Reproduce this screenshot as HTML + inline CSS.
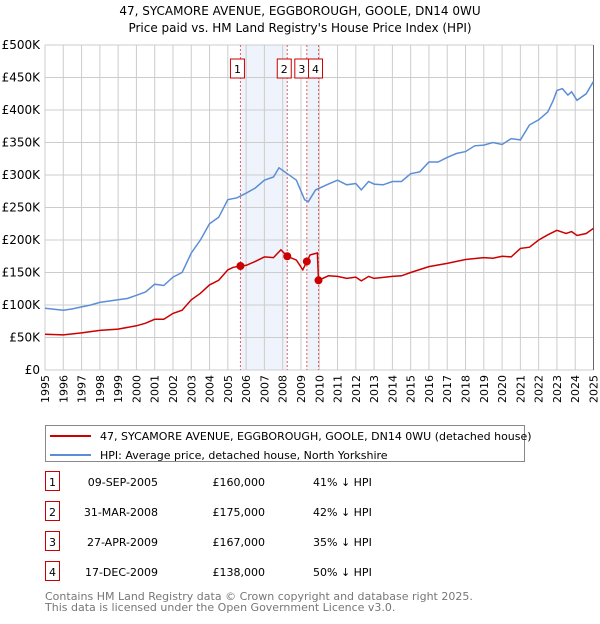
<!DOCTYPE html>
<html><head><meta charset="utf-8"><style>
body{margin:0;background:#fff;font-family:"DejaVu Sans","Liberation Sans",sans-serif;}
svg text{font-family:"DejaVu Sans","Liberation Sans",sans-serif;}
</style></head><body>
<svg id="c" width="600" height="620" xmlns="http://www.w3.org/2000/svg">
<text x="300" y="15" text-anchor="middle" font-size="12">47, SYCAMORE AVENUE, EGGBOROUGH, GOOLE, DN14 0WU</text>
<text x="300" y="32" text-anchor="middle" font-size="12">Price paid vs. HM Land Registry's House Price Index (HPI)</text>
<g id="plot"></g>
<g>
<rect x="45.5" y="425.5" width="479" height="36" fill="#fff" stroke="#888"/>
<line x1="50" y1="436" x2="91" y2="436" stroke="#cc0000" stroke-width="2"/>
<text x="100" y="440" font-size="11">47, SYCAMORE AVENUE, EGGBOROUGH, GOOLE, DN14 0WU (detached house)</text>
<line x1="50" y1="455" x2="91" y2="455" stroke="#5b8ed6" stroke-width="2"/>
<text x="100" y="459" font-size="11">HPI: Average price, detached house, North Yorkshire</text>
</g>
<g id="tbl" font-size="11"></g>
<text x="45" y="600" font-size="11" fill="#777">Contains HM Land Registry data © Crown copyright and database right 2025.</text>
<text x="45" y="611" font-size="11" fill="#777">This data is licensed under the Open Government Licence v3.0.</text>
</svg>
<script>
const hpiYears=[1995,1996,1996.5,1997,1997.5,1998,1999,1999.5,2000,2000.5,2001,2001.5,2002,2002.5,2003,2003.5,2004,2004.5,2005,2005.5,2006,2006.5,2007,2007.5,2007.8,2008.25,2008.75,2009.2,2009.4,2009.8,2010.5,2011,2011.5,2012,2012.3,2012.7,2013,2013.5,2014,2014.5,2015,2015.5,2016,2016.5,2017,2017.5,2018,2018.5,2019,2019.5,2020,2020.5,2021,2021.5,2022,2022.5,2022.8,2023,2023.3,2023.6,2023.8,2024.1,2024.6,2025];
const hpiValues=[95,92,94,97,100,104,108,110,115,120,132,130,143,150,180,200,225,235,262,265,272,280,292,297,311,302,292,262,259,277,286,292,285,287,277,290,286,285,290,290,302,305,320,320,327,333,336,345,346,350,347,356,354,377,385,397,415,430,433,423,428,415,425,444];
const ppYears=[1995,1996,1997,1998,1999,2000,2000.5,2001,2001.5,2002,2002.5,2003,2003.5,2004,2004.5,2005,2005.3,2005.69,2006,2006.5,2007,2007.5,2007.9,2008.25,2008.75,2009.1,2009.32,2009.5,2009.9,2009.96,2010.5,2011,2011.5,2012,2012.3,2012.7,2013,2014,2014.5,2015,2016,2017,2018,2019,2019.5,2020,2020.5,2021,2021.5,2022,2022.5,2023,2023.5,2023.8,2024.1,2024.6,2025];
const ppValues=[55,54,57,61,63,68,72,78,78,87,92,108,118,131,138,154,158,160,161,167,174,173,185,175,169,154,167,177,180,138,145,144,141,143,137,144,141,144,145,150,159,164,170,173,172,175,174,187,189,200,208,215,210,213,207,210,218];
const saleLabels=["1","2","3","4"];
const saleYears=[2005.69,2008.25,2009.32,2009.96];
const saleValues=[160,175,167,138];
const saleDates=["09-SEP-2005","31-MAR-2008","27-APR-2009","17-DEC-2009"];
const salePrices=["£160,000","£175,000","£167,000","£138,000"];
const salePct=["41% ↓ HPI","42% ↓ HPI","35% ↓ HPI","50% ↓ HPI"];
const yTicks=[0,50,100,150,200,250,300,350,400,450,500];
const yTickLabels=["£0","£50K","£100K","£150K","£200K","£250K","£300K","£350K","£400K","£450K","£500K"];

const NS="http://www.w3.org/2000/svg";
const X0=45,X1=593.5,Y0=370,Y1=45;
const xs=y=>X0+(y-1995)/30*(X1-X0);
const ys=v=>Y0-v/500*(Y0-Y1);
const plot=document.getElementById('plot');
function mk(tag,attrs,parent){const e=document.createElementNS(NS,tag);for(const k in attrs)e.setAttribute(k,attrs[k]);(parent||plot).appendChild(e);return e;}
const sh1=mk('rect',{x:xs(saleYears[0]),y:Y1,width:xs(saleYears[1])-xs(saleYears[0]),height:Y0-Y1,fill:'#eef3fc'});


const sh2=mk('rect',{x:xs(saleYears[2]),y:Y1,width:xs(saleYears[3])-xs(saleYears[2]),height:Y0-Y1,fill:'#eef3fc'});


for(let yr=1995;yr<=2025;yr++){
 const g=mk('line',{x1:xs(yr),x2:xs(yr),y1:Y1,y2:Y0,stroke:'#cccccc','stroke-width':1});
 
 
 const t=mk('text',{transform:`translate(${xs(yr)+4},375) rotate(-90)`,'text-anchor':'end','font-size':11});
 
 
 t.textContent=yr;
}
yTicks.forEach((v,i)=>{
 const g=mk('line',{x1:X0,x2:X1,y1:ys(v),y2:ys(v),stroke:'#cccccc','stroke-width':1});
 
 
 const t=mk('text',{x:40,y:ys(v)+4,'text-anchor':'end','font-size':12});
 
 
 t.textContent=yTickLabels[i];
});
const ax=mk('line',{x1:X1,x2:X1,y1:Y1,y2:Y0,stroke:'#666','stroke-width':1});


saleYears.forEach((yr,i)=>{
 const l=mk('line',{x1:xs(yr),x2:xs(yr),y1:Y1,y2:Y0,stroke:'#e06060','stroke-width':1,'stroke-dasharray':'2,2'});
 
 
});
const boxX=[xs(saleYears[0])-3,xs(saleYears[1])-3,xs(saleYears[2])-5,xs(saleYears[3])-3];
saleLabels.forEach((s,i)=>{
 const b=mk('rect',{x:boxX[i]-7,y:59,width:14,height:19,fill:'#fff',stroke:'#cc0000'});
 
 
 const t=mk('text',{x:boxX[i],y:73,'text-anchor':'middle','font-size':11});
 
 
 t.textContent=s;
});
function line(xa,va,color,name){
 const d=xa.map((x,i)=>(i?'L':'M')+xs(x).toFixed(1)+','+ys(va[i]).toFixed(1)).join('');
 const p=mk('path',{d:d,fill:'none',stroke:color,'stroke-width':1.5});
 
 
}
line(hpiYears,hpiValues,'#5b8ed6','hpi-line');
line(ppYears,ppValues,'#cc0000','price-paid-line');
saleYears.forEach((yr,i)=>{
 const c=mk('circle',{cx:xs(yr),cy:ys(saleValues[i]),r:4,fill:'#cc0000'});
 
 
});
const tbl=document.getElementById('tbl');
saleLabels.forEach((s,i)=>{
 const y=483+i*30;
 const b=mk('rect',{x:45.5,y:y-11.5,width:14,height:19,fill:'#fff',stroke:'#cc0000'},tbl);
 
 
 const vals=[[52.5,s,'middle'],[158,saleDates[i],'end'],[265,salePrices[i],'end'],[313,salePct[i],'start']];
 vals.forEach(v=>{
  const t=mk('text',{x:v[0],y:y+3,'text-anchor':v[2]},tbl);
  
  
  t.textContent=v[1];
 });
});
</script>
</body></html>
